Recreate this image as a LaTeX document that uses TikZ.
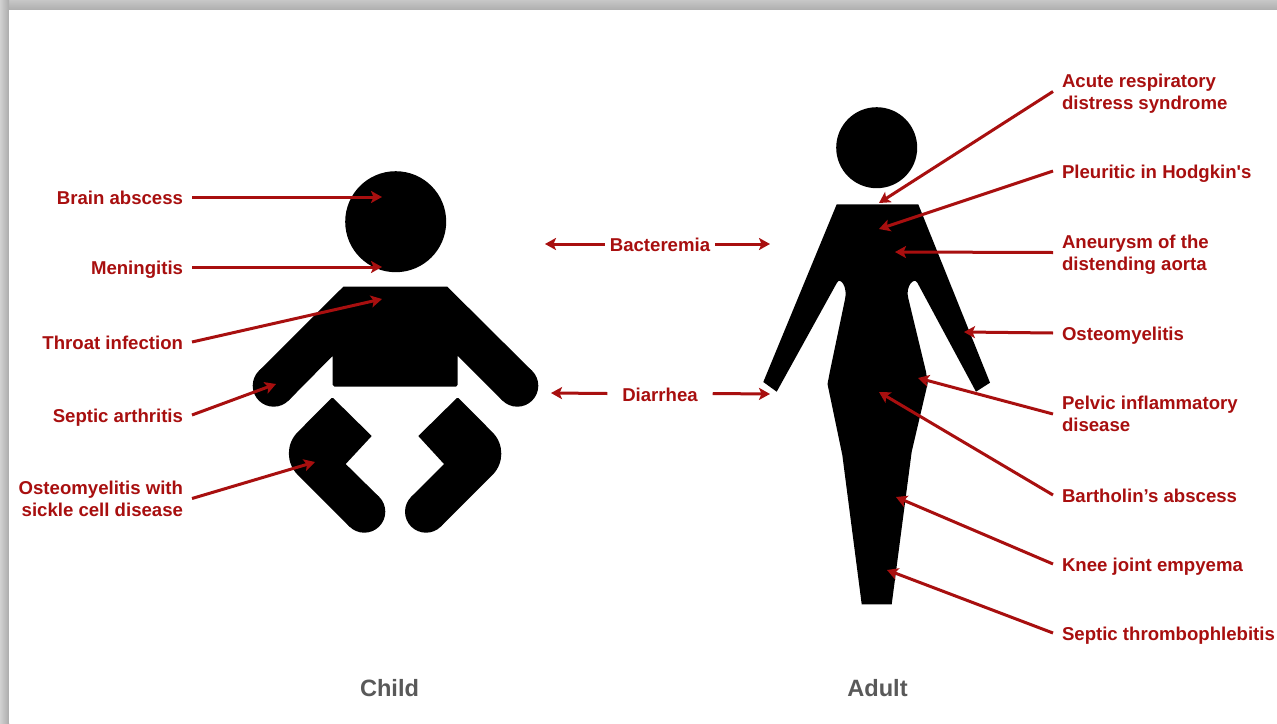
\documentclass[tikz,border=0pt]{standalone}
\usepackage{fontspec}
\setmainfont{Liberation Sans}
\newfontfamily\plainsans{Liberation Sans}
\usetikzlibrary{arrows.meta}
\definecolor{lab}{HTML}{A80F0F}
\definecolor{capt}{HTML}{595959}
\tikzset{
  lbl/.style={text=lab,font=\fontsize{18.6}{22}\selectfont\bfseries,inner sep=0pt,outer xsep=9pt,outer ysep=0pt,text height=15pt,text depth=0pt},
  two/.style={text height=35.4pt},
  llbl/.style={lbl,anchor=east,align=right},
  rlbl/.style={lbl,anchor=west,align=left},
  conn/.style={draw=lab,line width=3pt,-{Stealth[length=11pt,width=12pt,inset=2.5pt]}},
  sil/.style={fill=black,draw=none},
  captn/.style={text=capt,font=\fontsize{23.6}{26}\selectfont\bfseries,inner sep=0pt}
}
\begin{document}
\begin{tikzpicture}[x=1pt,y=-1pt]
\useasboundingbox (0,0) rectangle (1277,723);
% slide shadow
\fill[white] (0,0) rectangle (1277,723);
\shade[top color=black!22,bottom color=black!32] (0,0) rectangle (1277,10);
\shade[left color=black!18,right color=black!33] (0,0) rectangle (9,723);
\fill[white] (9,10) rectangle (1277,723);
% child
\fill[sil] (395.7,221.7) circle[radius=50.5];
\fill[sil] (343.3,286.7) -- (447.3,286.7) -- (532.1,370.9) -- (502.4,400.5) -- (457.7,355.8) -- (457.7,384.7)
  -- (456,386.7) -- (334.5,386.7) -- (332.7,384.7) -- (332.7,355.8) -- (288.6,400.5) -- (258.9,370.9) -- cycle;
\fill[sil] (517.3,385.7) circle[radius=21];
\fill[sil] (273.7,385.7) circle[radius=21];
\fill[sil] (333.3,398.2) -- (371.7,436) -- (345.7,464) -- (379.1,496.9) -- (349.45,526.55)
  [rounded corners=30pt] -- (276.45,453.55) [sharp corners] -- (331.3,398.2) -- cycle;
\fill[sil] (364.3,511.7) circle[radius=21];
\fill[sil] (456.7,398.2) -- (418.3,436) -- (444,464) -- (411.15,496.85) -- (440.85,526.55)
  [rounded corners=30pt] -- (513.7,453.7) [sharp corners] -- (458.7,398.2) -- cycle;
\fill[sil] (426,511.7) circle[radius=21];
% adult
\fill[sil] (876.7,147.7) circle[radius=40.5];
\fill[sil] (836.7,204.3) -- (918.3,204.3) -- (990,382.7) -- (976,391.7) -- (917.5,283)
  .. controls (914,276) and (905,287) .. (908.3,298.3)
  -- (926,371.7) -- (927.7,383.3) -- (911.7,451.7) -- (891.7,604.3) -- (861.7,604.3)
  -- (842.3,455) -- (827.5,384) -- (830,371) -- (845,299.3)
  .. controls (848,287) and (840,276) .. (836.8,283)
  -- (776.7,391.7) -- (763.3,382) -- cycle;
% tips
\coordinate (t1) at (382,197);
\coordinate (t2) at (382,267);
\coordinate (t3) at (382,299);
\coordinate (t4) at (276,384);
\coordinate (t5) at (315,462);
\coordinate (ba) at (545,244);
\coordinate (bb) at (770,244);
\coordinate (da) at (551,393);
\coordinate (db) at (770,394);
\coordinate (r1) at (879,203);
\coordinate (r2) at (879,229);
\coordinate (r3) at (895,252);
\coordinate (r4) at (964,332);
\coordinate (r5) at (918,378);
\coordinate (r6) at (879,392);
\coordinate (r7) at (896,497);
\coordinate (r8) at (887,570);
% labels
\node[llbl] (l1) at (192,197) {Brain abscess};
\node[llbl] (l2) at (192,267) {Meningitis};
\node[llbl] (l3) at (192,342) {Throat infection};
\node[llbl] (l4) at (192,415) {Septic arthritis};
\node[llbl,two] (l5) at (192,498.5) {Osteomyelitis with\\sickle cell disease};
\node[lbl,outer xsep=5pt] (bac) at (660,244) {Bacteremia};
\node[lbl,outer xsep=15pt] (dia) at (660,393.5) {Diarrhea};
\node[rlbl,two] (x1) at (1053,91.5) {Acute respiratory\\distress syndrome};
\node[rlbl] (x2) at (1053,171) {Pleuritic in Hodgkin{\plainsans\bfseries '}s};
\node[rlbl,two] (x3) at (1053,252.5) {Aneurysm of the\\distending aorta};
\node[rlbl] (x4) at (1053,333) {Osteomyelitis};
\node[rlbl,two] (x5) at (1053,414) {Pelvic inflammatory\\disease};
\node[rlbl] (x6) at (1053,495) {Bartholin’s abscess};
\node[rlbl] (x7) at (1053,564) {Knee joint empyema};
\node[rlbl] (x8) at (1053,633) {Septic thrombophlebitis};
\node[captn] (child) at (389.5,688) {Child};
\node[captn] (adult) at (877.5,688) {Adult};
% connectors
\foreach \a/\b in {l1.east/t1,l2.east/t2,l3.east/t3,l4.east/t4,l5.east/t5,bac.west/ba,bac.east/bb,dia.west/da,dia.east/db,x1.west/r1,x2.west/r2,x3.west/r3,x4.west/r4,x5.west/r5,x6.west/r6,x7.west/r7,x8.west/r8}
  \path[conn] (\a) -- (\b);
\end{tikzpicture}
\end{document}
